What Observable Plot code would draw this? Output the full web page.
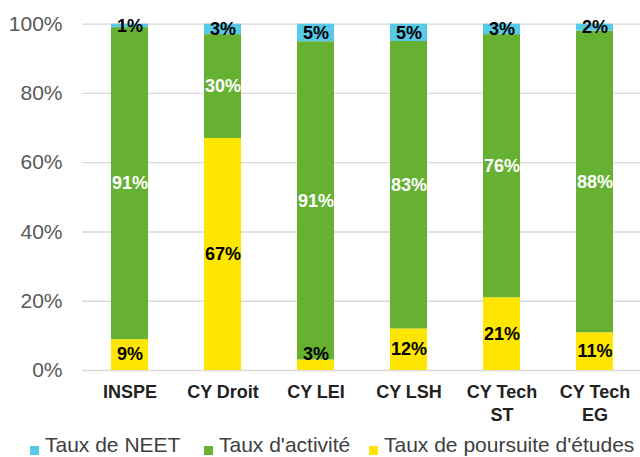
<!DOCTYPE html>
<html>
<head>
<meta charset="utf-8">
<script src="https://cdn.jsdelivr.net/npm/d3@7"></script>
<script src="https://cdn.jsdelivr.net/npm/@observablehq/plot@0.6"></script>
<style>
  body { margin: 0; background: #fff; font-family: "Liberation Sans", Arial, sans-serif; }
  #wrap { position: relative; width: 640px; height: 457px; overflow: hidden; }
  #legend { position: absolute; top: 433px; left: 0; width: 640px; height: 24px; font-size: 21px; line-height: 24px; color: #404040; }
  .item { position: absolute; top: 0; white-space: nowrap; }
  .sw { display: inline-block; width: 9px; height: 9px; margin-right: 6px; vertical-align: -3px; }
</style>
</head>
<body>
<div id="wrap"></div>
<script>
const categories = ["INSPE", "CY Droit", "CY LEI", "CY LSH", "CY Tech\nST", "CY Tech\nEG"];
const poursuite = [9, 67, 3, 12, 21, 11];
const activite = [91, 30, 91, 83, 76, 88];
const neet = [1, 3, 5, 5, 3, 2];
const seriesNames = ["Taux de poursuite d'études", "Taux d'activité", "Taux de NEET"];
const seriesColors = ["#FFE600", "#66B132", "#59C9E8"];
const labelColors = ["#000000", "#FFFFFF", "#000000"];
const legendOrder = ["Taux de NEET", "Taux d'activité", "Taux de poursuite d'études"];
const yTicks = [0, 0.2, 0.4, 0.6, 0.8, 1];

const seriesValues = [poursuite, activite, neet];
const rows = [];
categories.forEach((c, i) => {
  seriesNames.forEach((s, j) => rows.push({cat: c, series: s, value: seriesValues[j][i]}));
});

// label positions: midpoints of normalized segments
const labels = [];
categories.forEach((c, i) => {
  const vals = seriesValues.map(v => v[i]);
  const total = d3.sum(vals);
  let acc = 0;
  vals.forEach((v, j) => {
    let mid = (acc + v / 2) / total;
    if (j === 0) mid = Math.max(mid, 0.046);
    labels.push({cat: c, y: mid, text: v + "%", series: seriesNames[j], color: labelColors[j]});
    acc += v;
  });
});

const chart = Plot.plot({
  width: 640,
  height: 430,
  marginTop: 23.7,
  marginBottom: 60,
  marginLeft: 82,
  marginRight: 0,
  style: {fontFamily: "'Liberation Sans', Arial, sans-serif", background: "#fff"},
  x: {domain: categories, range: [82, 642], paddingInner: 0.6, paddingOuter: 0.3, label: null},
  y: {domain: [0, 1], label: null},
  color: {domain: seriesNames, range: seriesColors},
  marks: [
    Plot.ruleY(yTicks, {stroke: "#D9D9D9", strokeWidth: 1.3}),
    Plot.barY(rows, Plot.stackY({x: "cat", y: "value", fill: "series", order: null, offset: "normalize"})),
    Plot.text(labels, {x: "cat", y: "y", text: "text", fill: "color", fontSize: 18, fontWeight: "bold"}),
    Plot.axisY({ticks: yTicks, tickFormat: d3.format(".0%"), tickSize: 0, tickPadding: 20, fontSize: 21, color: "#595959", label: null}),
    Plot.axisX({tickSize: 0, tickPadding: 12, fontSize: 18, fontWeight: "bold", lineHeight: 1.25, color: "#222", label: null})
  ]
});

const wrap = document.getElementById("wrap");
wrap.appendChild(chart);

const legend = document.createElement("div");
legend.id = "legend";
const lefts = [30, 204, 369];
legendOrder.forEach((name, k) => {
  const item = document.createElement("span");
  item.className = "item";
  item.style.left = lefts[k] + "px";
  const sw = document.createElement("span");
  sw.className = "sw";
  sw.style.background = seriesColors[seriesNames.indexOf(name)];
  item.appendChild(sw);
  item.appendChild(document.createTextNode(name));
  legend.appendChild(item);
});
wrap.appendChild(legend);
</script>
</body>
</html>
